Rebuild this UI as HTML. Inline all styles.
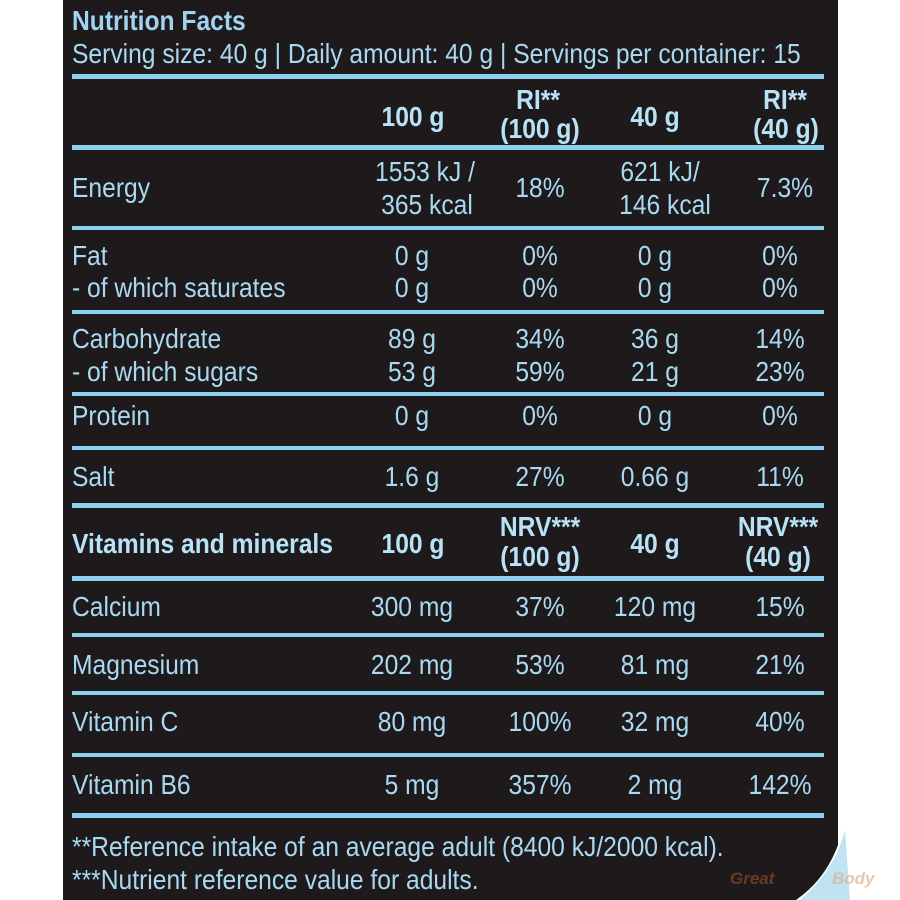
<!DOCTYPE html>
<html><head><meta charset="utf-8"><style>
html,body{margin:0;padding:0;background:#fff;}
svg{display:block}
text{font-family:"Liberation Sans",sans-serif;fill:#a9d9f2;font-size:28px;transform-box:fill-box;transform-origin:left center;transform:scaleX(0.88)}
.b{font-weight:bold;fill:#b8e2f7}
.m{text-anchor:middle;transform-origin:center center}
.w{transform:none}
</style></head><body>
<svg width="900" height="900" viewBox="0 0 900 900" xmlns="http://www.w3.org/2000/svg">
<path d="M800,900 Q835,870 845,830 L850,900 Z" fill="#bfe3f3"/>
<path d="M63,0 H838 V845 Q825,880 796,900 H63 Z" fill="#1e1a1b"/>
<g fill="#8ccfee">
<rect x="72" y="74" width="752" height="5"/>
<rect x="72" y="145" width="752" height="5"/>
<rect x="72" y="226" width="752" height="4"/>
<rect x="72" y="310" width="752" height="4"/>
<rect x="72" y="392" width="752" height="4"/>
<rect x="72" y="446" width="752" height="4"/>
<rect x="72" y="503" width="752" height="5"/>
<rect x="72" y="576" width="752" height="5"/>
<rect x="72" y="633" width="752" height="4"/>
<rect x="72" y="691" width="752" height="4"/>
<rect x="72" y="753" width="752" height="4"/>
<rect x="72" y="813" width="752" height="5"/>
</g>
<text x="72" y="30" class="b" style="fill:#9fd3ef">Nutrition Facts</text>
<text x="72" y="63">Serving size: 40 g | Daily amount: 40 g | Servings per container: 15</text>

<text x="413" y="126" class="b m">100 g</text>
<text x="538" y="109" class="b m">RI**</text>
<text x="540" y="138" class="b m">(100 g)</text>
<text x="655" y="126" class="b m">40 g</text>
<text x="785" y="109" class="b m">RI**</text>
<text x="786" y="138" class="b m">(40 g)</text>

<text x="72" y="197">Energy</text>
<text x="425" y="181" class="m">1553 kJ /</text>
<text x="427" y="214" class="m">365 kcal</text>
<text x="540" y="197" class="m">18%</text>
<text x="660" y="181" class="m">621 kJ/</text>
<text x="665" y="214" class="m">146 kcal</text>
<text x="785" y="197" class="m">7.3%</text>

<text x="72" y="265">Fat</text>
<text x="72" y="297">- of which saturates</text>
<text x="412" y="265" class="m">0 g</text><text x="412" y="297" class="m">0 g</text>
<text x="540" y="265" class="m">0%</text><text x="540" y="297" class="m">0%</text>
<text x="655" y="265" class="m">0 g</text><text x="655" y="297" class="m">0 g</text>
<text x="780" y="265" class="m">0%</text><text x="780" y="297" class="m">0%</text>

<text x="72" y="348">Carbohydrate</text>
<text x="72" y="381">- of which sugars</text>
<text x="412" y="348" class="m">89 g</text><text x="412" y="381" class="m">53 g</text>
<text x="540" y="348" class="m">34%</text><text x="540" y="381" class="m">59%</text>
<text x="655" y="348" class="m">36 g</text><text x="655" y="381" class="m">21 g</text>
<text x="780" y="348" class="m">14%</text><text x="780" y="381" class="m">23%</text>

<text x="72" y="425">Protein</text>
<text x="412" y="425" class="m">0 g</text>
<text x="540" y="425" class="m">0%</text>
<text x="655" y="425" class="m">0 g</text>
<text x="780" y="425" class="m">0%</text>

<text x="72" y="486">Salt</text>
<text x="412" y="486" class="m">1.6 g</text>
<text x="540" y="486" class="m">27%</text>
<text x="655" y="486" class="m">0.66 g</text>
<text x="780" y="486" class="m">11%</text>

<text x="72" y="553" class="b">Vitamins and minerals</text>
<text x="413" y="553" class="b m">100 g</text>
<text x="540" y="536" class="b m">NRV***</text>
<text x="540" y="566" class="b m">(100 g)</text>
<text x="655" y="553" class="b m">40 g</text>
<text x="778" y="536" class="b m">NRV***</text>
<text x="778" y="566" class="b m">(40 g)</text>

<text x="72" y="616">Calcium</text>
<text x="412" y="616" class="m">300 mg</text>
<text x="540" y="616" class="m">37%</text>
<text x="655" y="616" class="m">120 mg</text>
<text x="780" y="616" class="m">15%</text>

<text x="72" y="674">Magnesium</text>
<text x="412" y="674" class="m">202 mg</text>
<text x="540" y="674" class="m">53%</text>
<text x="655" y="674" class="m">81 mg</text>
<text x="780" y="674" class="m">21%</text>

<text x="72" y="731">Vitamin C</text>
<text x="412" y="731" class="m">80 mg</text>
<text x="540" y="731" class="m">100%</text>
<text x="655" y="731" class="m">32 mg</text>
<text x="780" y="731" class="m">40%</text>

<text x="72" y="794">Vitamin B6</text>
<text x="412" y="794" class="m">5 mg</text>
<text x="540" y="794" class="m">357%</text>
<text x="655" y="794" class="m">2 mg</text>
<text x="780" y="794" class="m">142%</text>

<text x="72" y="856">**Reference intake of an average adult (8400 kJ/2000 kcal).</text>
<text x="72" y="889">***Nutrient reference value for adults.</text>
<text x="730" y="884" class="w" style="font-size:17px;font-style:italic;font-weight:bold;fill:#8a4a2a;opacity:0.7">Great</text>
<text x="832" y="884" class="w" style="font-size:17px;font-style:italic;font-weight:bold;fill:#e0b090;opacity:0.7">Body</text>
</svg>
</body></html>
